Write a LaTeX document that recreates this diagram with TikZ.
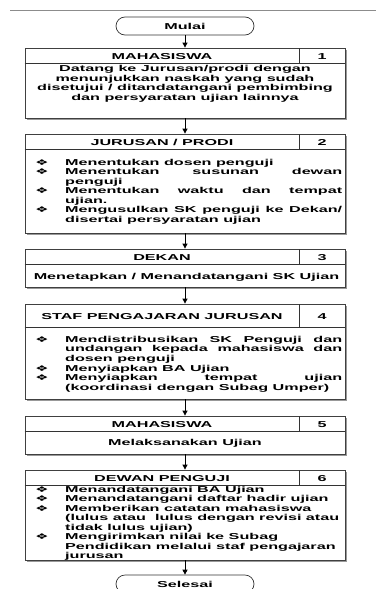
\documentclass[tikz,border=0pt]{standalone}
\usepackage{fontspec}
\usepackage{array}
\setmainfont[FakeStretch=1.88]{Liberation Sans}
\newfontfamily\symfont[FakeStretch=1.9]{DejaVu Sans}
\usetikzlibrary{arrows.meta,shadows}
\newcommand\bul{{\symfont\fontsize{8}{8}\selectfont ❖}}
\newcommand\B{\makebox[30pt][l]{\bul}}
\newcommand\J[1]{\makebox[277pt][s]{#1}}
\tikzset{
  box/.style={draw=black!75, line width=0.8pt, fill=white, minimum width=320pt, inner sep=0pt,
    drop shadow={shadow xshift=1.6pt, shadow yshift=-1.6pt, fill=black!40, opacity=1}},
  inner/.style={draw=black!80, line width=0.7pt},
  term/.style={draw=black!80, line width=0.7pt, rounded corners=9pt, minimum width=138pt,
    minimum height=18pt, inner sep=0pt, font=\fontsize{8.6}{9.5}\selectfont\bfseries},
  txt/.style={inner sep=0pt, font=\fontsize{8.6}{9.5}\selectfont\bfseries},
  body/.style={inner sep=0pt, anchor=base west, font=\fontsize{8.6}{9.6}\selectfont\bfseries},
  arr/.style={-{Triangle[length=5pt,width=5pt]}, line width=0.8pt, black}
}
\begin{document}
\begin{tikzpicture}[x=1pt,y=-1pt]
\useasboundingbox (0,0) rectangle (376,589);
\draw[black!45, line width=1pt] (10,10) -- (376,10);

% terminals
\node[term] (start) at (185,26) {Mulai};
\node[term] (end) at (185,584) {Selesai};

% boxes
\node[box, minimum height=70pt] (b1) at (185,83) {};
\node[box, minimum height=99pt] (b2) at (185,183.5) {};
\node[box, minimum height=38pt] (b3) at (185,268) {};
\node[box, minimum height=95pt] (b4) at (185,351.5) {};
\node[box, minimum height=38pt] (b5) at (185,435) {};
\node[box, minimum height=90pt] (b6) at (185,515) {};

% header separators and number dividers
\foreach \b/\t/\h in {b1/48/63, b2/134/149, b3/249/264, b4/304/327, b5/416/431, b6/470/485}{
  \draw[inner] (\b.west |- 0,\h) -- (\b.east |- 0,\h);
  \draw[inner] (299,\t) -- (299,\h);
}

% headers
\node[txt, anchor=base] (h1) at (162,59.3) {MAHASISWA};
\node[txt, anchor=base] (n1) at (322,59.3) {1};
\node[txt, anchor=base] (h2) at (162,145.3) {JURUSAN / PRODI};
\node[txt, anchor=base] (n2) at (322,145.3) {2};
\node[txt, anchor=base] (h3) at (162,260.3) {DEKAN};
\node[txt, anchor=base] (n3) at (322,260.3) {3};
\node[txt, anchor=base] (h4) at (162,319) {STAF PENGAJARAN JURUSAN};
\node[txt, anchor=base] (n4) at (322,319) {4};
\node[txt, anchor=base] (h5) at (162,427.3) {MAHASISWA};
\node[txt, anchor=base] (n5) at (322,427.3) {5};
\node[txt, anchor=base] (h6) at (162,481.3) {DEWAN PENGUJI};
\node[txt, anchor=base] (n6) at (322,481.3) {6};

% bodies
\node[inner sep=0pt, anchor=base, font=\fontsize{8.6}{9.8}\selectfont\bfseries] (t1) at (185,71.3)
  {\begin{tabular}[t]{@{}c@{}}Datang ke Jurusan/prodi dengan\\ menunjukkan naskah yang sudah\\
   disetujui / ditandatangani pembimbing\\ dan persyaratan ujian lainnya\end{tabular}};

\node[body, font=\fontsize{8.6}{9.5}\selectfont\bfseries] (t2) at (35,165.3)
  {\begin{tabular}[t]{@{}l@{}l@{}}
  \B & Menentukan dosen penguji\\
  \B & \J{Menentukan susunan dewan}\\
     & penguji\\
  \B & \J{Menentukan waktu dan tempat}\\
     & ujian.\\
  \B & \J{Mengusulkan SK penguji ke Dekan/}\\
     & disertai persyaratan ujian
  \end{tabular}};

\node[txt, anchor=base] (t3) at (186.5,279.3) {Menetapkan / Menandatangani SK Ujian};

\node[body, font=\fontsize{8.6}{9.7}\selectfont\bfseries] (t4) at (35,342)
  {\begin{tabular}[t]{@{}l@{}l@{}}
  \B & \J{Mendistribusikan SK Penguji dan}\\
     & \J{undangan kepada mahasiswa dan}\\
     & dosen penguji\\
  \B & Menyiapkan BA Ujian\\
  \B & \J{Menyiapkan tempat ujian}\\
     & (koordinasi dengan Subag Umper)
  \end{tabular}};

\node[txt, anchor=base] (t5) at (185,445.5) {Melaksanakan Ujian};

\node[body, font=\fontsize{8.6}{9.57}\selectfont\bfseries] (t6) at (35,492)
  {\begin{tabular}[t]{@{}l@{}l@{}}
  \B & Menandatangani BA Ujian\\
  \B & Menandatangani daftar hadir ujian\\
  \B & Memberikan catatan mahasiswa\\
     & (lulus atau\ \ lulus dengan revisi atau\\
     & tidak lulus ujian)\\
  \B & Mengirimkan nilai ke Subag\\
     & Pendidikan melalui staf pengajaran\\
     & jurusan
  \end{tabular}};

% connectors
\draw[arr] (start) -- (b1);
\draw[arr] (b1) -- (b2);
\draw[arr] (b2) -- (b3);
\draw[arr] (b3) -- (b4);
\draw[arr] (b4) -- (b5);
\draw[arr] (b5) -- (b6);
\draw[arr] (b6) -- (end);
\end{tikzpicture}
\end{document}
